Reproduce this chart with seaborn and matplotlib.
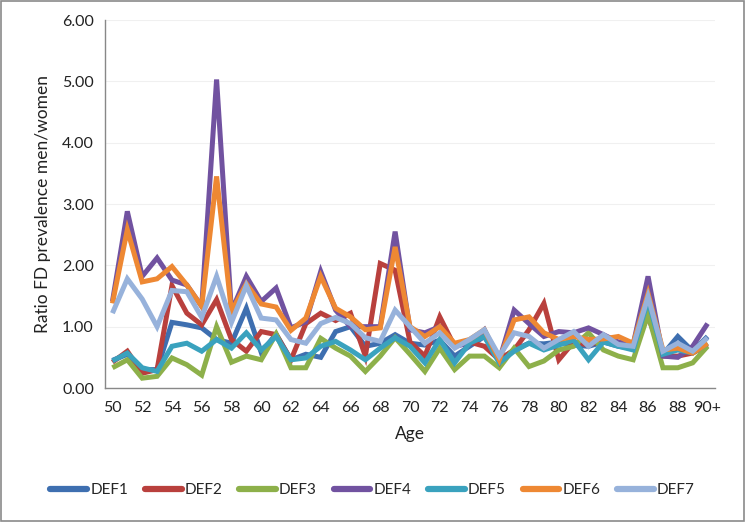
import matplotlib
matplotlib.use("Agg")
import matplotlib.pyplot as plt
import seaborn as sns
import pandas as pd
from matplotlib.patches import Rectangle
from matplotlib.lines import Line2D

ages = [str(a) for a in range(50, 90)] + ["90+"]

def1 = [0.45, 0.55, 0.30, 0.30, 1.07, 1.03, 0.98, 0.79, 0.73, 1.30, 0.58, 0.88, 0.46, 0.55, 0.50, 0.92,
        1.00, 0.68, 0.73, 0.87, 0.73, 0.70, 0.78, 0.52, 0.68, 0.84, 0.46, 0.62, 0.73, 0.72, 0.75, 0.70,
        0.68, 0.75, 0.68, 0.65, 1.33, 0.55, 0.84, 0.60, 0.84]
def2 = [0.42, 0.60, 0.24, 0.30, 1.67, 1.22, 1.03, 1.44, 0.79, 0.60, 0.92, 0.87, 0.46, 1.05, 1.22, 1.10,
        1.22, 0.52, 2.03, 1.92, 0.75, 0.52, 1.16, 0.68, 0.75, 0.68, 0.46, 0.62, 0.95, 1.38, 0.46, 0.75,
        0.70, 0.78, 0.70, 0.70, 1.16, 0.52, 0.52, 0.57, 0.70]
def3 = [0.33, 0.46, 0.16, 0.19, 0.49, 0.38, 0.21, 1.00, 0.42, 0.52, 0.46, 0.88, 0.33, 0.33, 0.81, 0.65,
        0.52, 0.27, 0.52, 0.82, 0.55, 0.27, 0.65, 0.30, 0.52, 0.52, 0.33, 0.65, 0.35, 0.44, 0.62, 0.68,
        0.90, 0.62, 0.52, 0.46, 1.20, 0.33, 0.33, 0.41, 0.68]
def4 = [1.41, 2.88, 1.82, 2.12, 1.76, 1.68, 1.33, 5.03, 1.25, 1.82, 1.41, 1.63, 0.98, 1.08, 1.90, 1.27,
        1.00, 1.00, 1.00, 2.55, 0.95, 0.90, 1.00, 0.68, 0.73, 0.95, 0.45, 1.27, 1.05, 0.84, 0.92, 0.90,
        0.98, 0.87, 0.75, 0.71, 1.82, 0.52, 0.50, 0.68, 1.05]
def5 = [0.44, 0.57, 0.33, 0.27, 0.68, 0.73, 0.60, 0.79, 0.65, 0.90, 0.62, 0.84, 0.46, 0.49, 0.68, 0.76,
        0.62, 0.46, 0.65, 0.82, 0.68, 0.41, 0.79, 0.41, 0.73, 0.84, 0.41, 0.60, 0.73, 0.62, 0.70, 0.78,
        0.46, 0.75, 0.68, 0.62, 1.43, 0.55, 0.62, 0.57, 0.73]
def6 = [1.38, 2.58, 1.73, 1.78, 1.98, 1.68, 1.33, 3.45, 1.25, 1.70, 1.37, 1.32, 0.94, 1.14, 1.82, 1.30,
        1.16, 0.95, 0.98, 2.30, 1.00, 0.84, 1.00, 0.73, 0.79, 0.95, 0.46, 1.11, 1.16, 0.90, 0.79, 0.84,
        0.79, 0.80, 0.84, 0.73, 1.54, 0.62, 0.65, 0.57, 0.73]
def7 = [1.22, 1.78, 1.45, 1.00, 1.59, 1.57, 1.15, 1.82, 1.07, 1.67, 1.14, 1.11, 0.79, 0.73, 1.05, 1.15,
        1.05, 0.82, 0.76, 1.27, 1.00, 0.73, 0.90, 0.65, 0.79, 0.95, 0.52, 0.90, 0.84, 0.65, 0.79, 0.92,
        0.68, 0.87, 0.71, 0.68, 1.49, 0.60, 0.73, 0.60, 0.82]

series_names = ["DEF1", "DEF2", "DEF3", "DEF4", "DEF5", "DEF6", "DEF7"]
series_vals = [def1, def2, def3, def4, def5, def6, def7]
colors = ["#3E6FB0", "#B9403D", "#8DB04A", "#7152A0", "#3AA2BE", "#EE8833", "#97B2DB"]

rows = []
for name, vals in zip(series_names, series_vals):
    for i, v in enumerate(vals):
        rows.append({"idx": i, "Age": ages[i], "value": v, "series": name})
df = pd.DataFrame(rows)

sns.set_style("white")
plt.rcParams["font.family"] = ["Lato", "DejaVu Sans"]

fig = plt.figure(figsize=(7.45, 5.22), dpi=100)
ax = fig.add_axes([105/745, 1 - 388/522, 610/745, 368/522])

sns.lineplot(data=df, x="idx", y="value", hue="series", palette=colors,
             hue_order=series_names, linewidth=3.6, ax=ax, legend=False,
             solid_joinstyle="miter", solid_capstyle="butt")

ax.set_xlim(-0.5, len(ages) - 0.5)
ax.set_ylim(0, 6)
ax.set_yticks([0, 1, 2, 3, 4, 5, 6])
ax.set_yticklabels([f"{v:.2f}" for v in range(7)], fontsize=11.5, color="#222222")
ax.yaxis.grid(True, color="#f0f0f0", linewidth=0.8)
ax.set_axisbelow(True)

ax.set_xticks(list(range(0, len(ages), 2)))
ax.set_xticklabels(ages[::2], fontsize=11.5, color="#222222")
ax.set_xticks([i - 0.5 for i in range(len(ages) + 1)], minor=True)
ax.tick_params(axis="x", which="major", length=0, pad=9)
ax.tick_params(axis="x", which="minor", length=5, color="#888888", width=0.9, direction="out")
ax.tick_params(axis="y", which="major", length=5, color="#888888", width=0.9, direction="out", pad=3)

for s in ["top", "right"]:
    ax.spines[s].set_visible(False)
for s in ["left", "bottom"]:
    ax.spines[s].set_color("#888888")
    ax.spines[s].set_linewidth(1.0)

ax.set_xlabel("Age", fontsize=12.5, color="#222222", labelpad=8)
ax.set_ylabel("Ratio FD prevalence men/women", fontsize=12.5, color="#222222", labelpad=8)

handles = [Line2D([0], [0], color=c, lw=4.5, solid_capstyle="round") for c in colors]
fig.legend(handles, series_names, loc="center", bbox_to_anchor=(0.5, 1 - 490/522),
           ncol=7, frameon=False, fontsize=11, handlelength=2.4, handletextpad=0.2,
           columnspacing=1.1)

fig.patches.append(Rectangle((0.002, 0.002), 0.996, 0.996, transform=fig.transFigure,
                             fill=False, edgecolor="#8a8a8a", linewidth=1.2))

fig.savefig("out.png", dpi=100)
